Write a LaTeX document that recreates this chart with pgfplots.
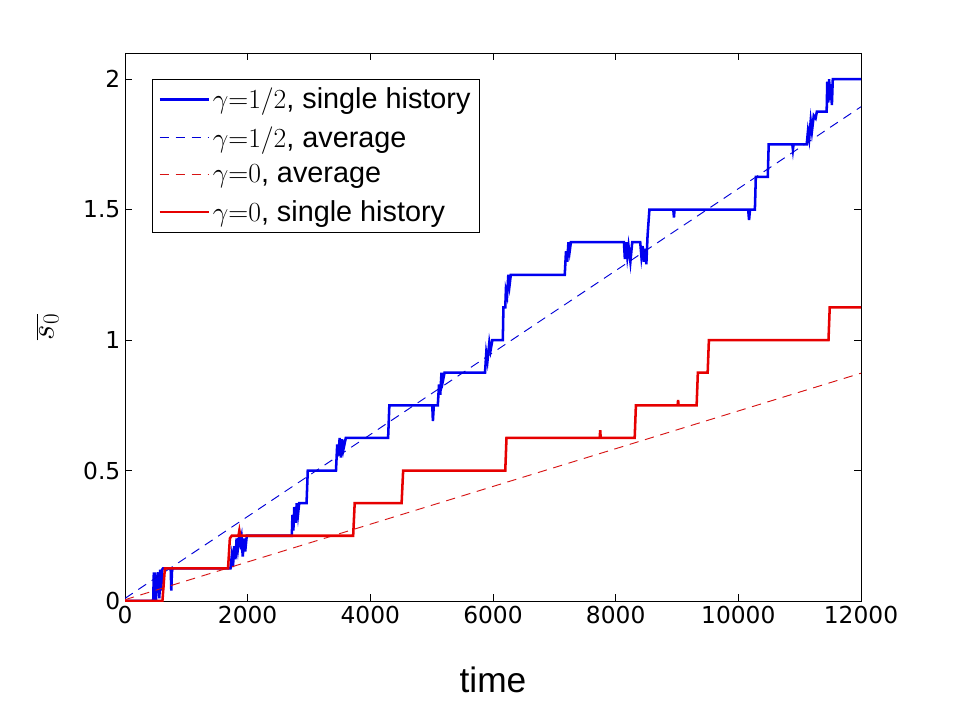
\documentclass[border=0pt]{standalone}
\usepackage{pgfplots}
\pgfplotsset{compat=1.18}
\usepackage{fontspec}
\setmainfont{Liberation Sans}
\newfontfamily\tickfont{DejaVu Sans}
\definecolor{myblue}{RGB}{0,0,240}
\definecolor{myred}{RGB}{230,0,0}
\definecolor{avgblue}{RGB}{0,0,215}
\definecolor{avgred}{RGB}{215,20,20}
\begin{document}
\begin{tikzpicture}
\useasboundingbox (0,0) rectangle (714.75pt,525.75pt);
\begin{axis}[
  at={(93.75pt,75pt)}, anchor=south west, scale only axis,
  width=552pt, height=411pt,
  xmin=0, xmax=12000, ymin=0, ymax=2.1,
  xtick={0,2000,4000,6000,8000,10000,12000},
  ytick={0,0.5,1,1.5,2},
  scaled x ticks=false,
  tick align=inside, major tick length=5pt,
  tick style={black, line width=0.5pt},
  axis line style={line width=0.6pt},
  /pgf/number format/assume math mode=true,
  /pgf/number format/1000 sep={},
  ticklabel style={font=\tickfont\fontsize{17.5}{20}\selectfont},
  xlabel={time},
  xlabel style={font=\fontsize{26.5}{30}\selectfont, at={(axis description cs:0.5,-0.144)}, anchor=center},
  ylabel={$\overline{s_0}$},
  ylabel style={font=\fontsize{27}{30}\selectfont, at={(axis description cs:-0.105,0.5)}, anchor=center},
  legend cell align=left,
  legend style={at={(axis description cs:0.0367,0.9526)}, anchor=north west,
    draw=black, line width=0.5pt, font=\fontsize{21.6}{25}\selectfont,
    row sep=7.8pt, inner sep=4.5pt},
  legend image code/.code={\draw[#1] (0pt,0pt) -- (37pt,0pt);},
]
\addplot[myblue, line width=1.9pt] coordinates {
(0,0) (460,0) (470,0.11) (480,0.02) (495,0.11) (505,0) (515,0.10) (530,0.03)
(545,0.11) (560,0.01) (575,0.12) (590,0.04) (605,0.12) (620,0.125)
(745,0.125) (755,0.04) (765,0.11) (775,0.125)
(1720,0.125) (1740,0.17) (1760,0.13) (1780,0.21) (1800,0.16) (1820,0.24)
(1840,0.20) (1860,0.245) (1880,0.22) (1900,0.245) (1920,0.17) (1940,0.24)
(1960,0.19) (1985,0.25)
(2720,0.25) (2730,0.33) (2745,0.27) (2760,0.36) (2780,0.30) (2800,0.375)
(2820,0.33) (2840,0.375) (2960,0.375) (2980,0.5)
(3440,0.5) (3460,0.60) (3480,0.56) (3500,0.625) (3520,0.55) (3540,0.62)
(3560,0.58) (3600,0.625)
(4290,0.625) (4310,0.75)
(5010,0.75) (5020,0.69) (5035,0.75)
(5100,0.75) (5120,0.83) (5140,0.79) (5160,0.875) (5180,0.84) (5210,0.875)
(5870,0.875) (5890,0.95) (5910,0.92) (5940,0.99) (5960,0.96) (5990,1.0)
(6160,1.0) (6170,1.125) (6200,1.125) (6210,1.19) (6230,1.17) (6250,1.25)
(6270,1.21) (6290,1.25)
(7170,1.25) (7190,1.34) (7210,1.30) (7230,1.375) (7250,1.34) (7270,1.375)
(8135,1.375) (8150,1.31) (8170,1.375) (8190,1.32) (8210,1.36) (8240,1.30)
(8270,1.375) (8400,1.375) (8420,1.32) (8440,1.36) (8460,1.30) (8480,1.35)
(8500,1.29) (8520,1.40) (8550,1.5)
(8940,1.5) (8950,1.47) (8960,1.5)
(10160,1.5) (10175,1.46) (10190,1.5) (10270,1.5) (10285,1.625)
(10480,1.625) (10495,1.75)
(10880,1.75) (10890,1.73) (10900,1.75)
(11115,1.75) (11135,1.80) (11155,1.77) (11180,1.84) (11200,1.80) (11230,1.86)
(11260,1.85) (11280,1.875)
(11440,1.875) (11450,1.99) (11465,1.91) (11480,2.0) (11495,1.92) (11510,1.98)
(11525,1.90) (11540,2.0) (12000,2.0)
};
\addlegendentry{$\gamma{=}1/2$, single history}
\addplot[avgblue, line width=0.7pt, dash pattern=on 7pt off 5pt] coordinates {
(0,0.01) (12000,1.894)
};
\addlegendentry{$\gamma{=}1/2$, average}
\addplot[avgred, line width=0.7pt, dash pattern=on 7pt off 5pt] coordinates {
(0,0.005) (12000,0.873)
};
\addlegendentry{$\gamma{=}0$, average}
\addplot[myred, line width=1.9pt] coordinates {
(0,0) (610,0) (650,0.125)
(1680,0.125) (1710,0.24) (1740,0.25) (1850,0.25) (1865,0.27) (1880,0.25)
(3720,0.25) (3745,0.375)
(4510,0.375) (4535,0.5)
(6200,0.5) (6220,0.625)
(7740,0.625) (7748,0.655) (7756,0.625)
(8310,0.625) (8330,0.75)
(9010,0.75) (9018,0.77) (9026,0.75)
(9320,0.75) (9340,0.875)
(9500,0.875) (9520,1.0)
(11470,1.0) (11490,1.125) (12000,1.125)
};
\addlegendentry{$\gamma{=}0$, single history}
\end{axis}
\end{tikzpicture}
\end{document}
